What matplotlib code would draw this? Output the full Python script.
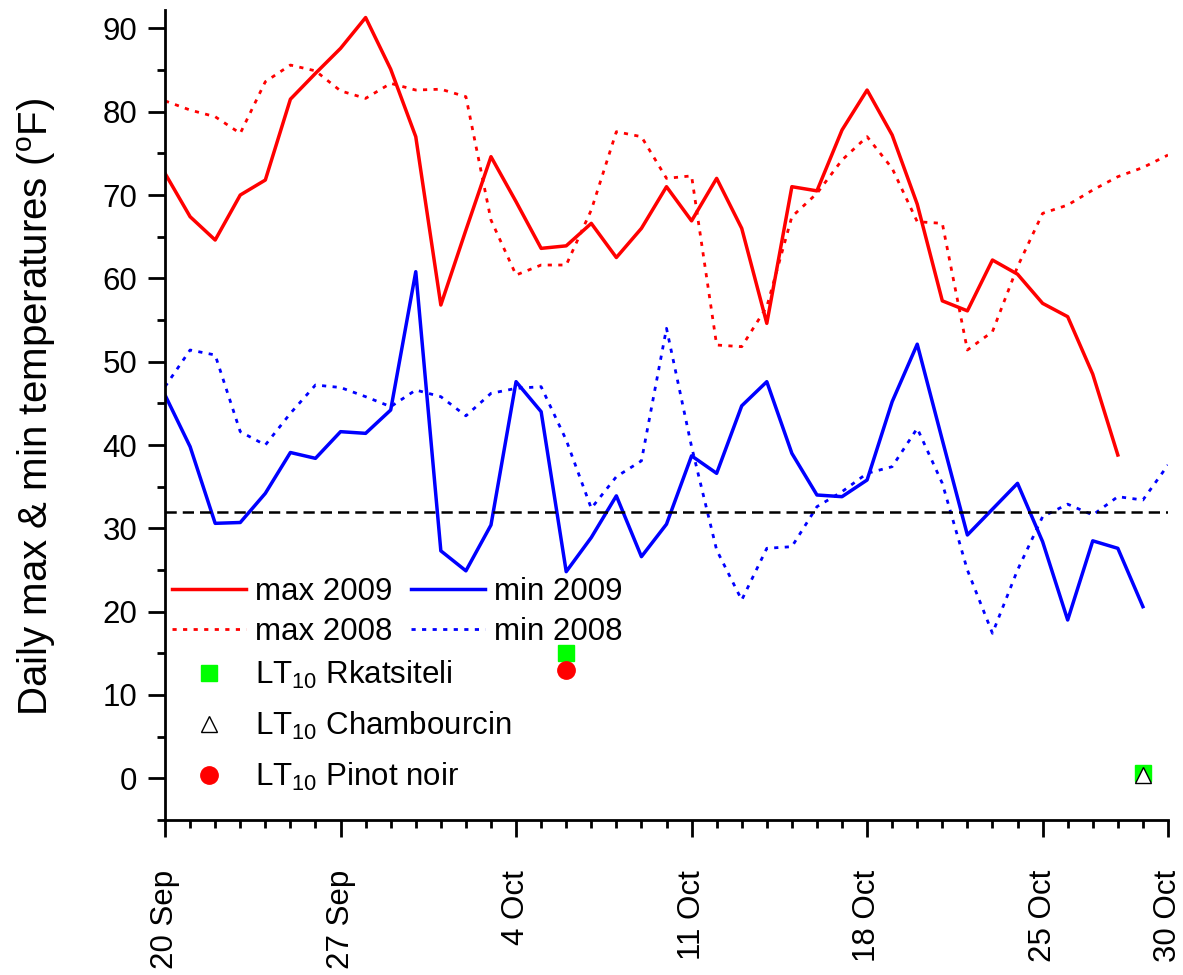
import matplotlib
matplotlib.use('Agg')
import matplotlib.pyplot as plt
import matplotlib.dates as mdates
from matplotlib.ticker import MultipleLocator, FixedLocator
import numpy as np
import pandas as pd

plt.rcParams['font.family'] = ['Liberation Sans', 'DejaVu Sans']
plt.rcParams['mathtext.fontset'] = 'custom'
plt.rcParams['mathtext.rm'] = 'Liberation Sans'
plt.rcParams['mathtext.it'] = 'Liberation Sans'

# daily temperatures, 20 Sep .. 30 Oct (deg F)
max_2009 = [72.6, 67.4, 64.6, 70.0, 71.8, 81.5, 84.6, 87.6, 91.3, 85.1,
            77.0, 56.8, 65.8, 74.6, 69.2, 63.6, 63.9, 66.6, 62.5, 66.0,
            71.0, 66.9, 72.0, 66.0, 54.6, 71.0, 70.5, 77.8, 82.6, 77.2,
            68.9, 57.3, 56.1, 62.2, 60.5, 57.0, 55.4, 48.5, 38.8]
max_2008 = [81.3, 80.2, 79.4, 77.4, 83.6, 85.6, 84.9, 82.5, 81.6, 83.4,
            82.6, 82.7, 81.8, 67.0, 60.4, 61.6, 61.6, 68.2, 77.6, 77.0,
            72.0, 72.3, 52.0, 51.8, 56.6, 67.4, 70.2, 74.2, 77.0, 73.2,
            66.8, 66.6, 51.4, 53.6, 61.4, 67.8, 68.8, 70.6, 72.2, 73.3, 74.8]
min_2009 = [46.0, 39.8, 30.6, 30.7, 34.2, 39.1, 38.4, 41.6, 41.4, 44.2,
            60.8, 27.3, 24.9, 30.4, 47.6, 44.0, 24.8, 28.9, 33.9, 26.6,
            30.5, 38.7, 36.6, 44.7, 47.6, 39.0, 34.0, 33.8, 35.8, 45.2,
            52.1, 40.6, 29.2, 32.3, 35.4, 28.4, 19.0, 28.5, 27.6, 20.6]
min_2008 = [47.0, 51.4, 50.8, 41.6, 40.0, 43.8, 47.2, 46.9, 45.8, 44.6,
            46.6, 45.8, 43.5, 46.2, 46.8, 47.0, 40.6, 32.4, 36.2, 38.1,
            54.0, 39.8, 27.4, 21.4, 27.6, 27.8, 32.6, 34.4, 36.6, 37.4,
            42.0, 35.4, 25.0, 17.4, 25.0, 31.4, 32.9, 31.6, 33.8, 33.4, 37.6]
freezing = 32

# LT10 cold hardiness measurements
lt10_dates = ['2009-10-06', '2009-10-29']
lt10_rkatsiteli = [15.0, 0.6]
lt10_chambourcin = [None, 0.4]
lt10_pinot = [13.0, None]

start = pd.Timestamp('2009-09-20')
end = pd.Timestamp('2009-10-30')
days_all = pd.date_range(start, end, freq='D')
tick_dates = ['2009-09-20', '2009-09-27', '2009-10-04', '2009-10-11',
              '2009-10-18', '2009-10-25', '2009-10-30']

fig = plt.figure(figsize=(11.83, 9.75), dpi=100)
ax = fig.add_axes([0.1395, 0.159, 0.8478, 0.8307])

dot = (0, (1.5, 2.3))
l1, = ax.plot(days_all[:len(max_2009)], max_2009, color='red', lw=2.5, label='max 2009')
l2, = ax.plot(days_all[:len(max_2008)], max_2008, color='red', lw=2.0, ls=dot, label='max 2008')
l3, = ax.plot(days_all[:len(min_2009)], min_2009, color='blue', lw=2.5, label='min 2009')
l4, = ax.plot(days_all[:len(min_2008)], min_2008, color='blue', lw=2.0, ls=dot, label='min 2008')
ax.plot([start, end], [freezing, freezing], color='black', lw=1.8, ls=(0, (4.5, 2.4)))

lt_x = pd.to_datetime(lt10_dates)
rk = np.array([np.nan if v is None else v for v in lt10_rkatsiteli])
ch = np.array([np.nan if v is None else v for v in lt10_chambourcin])
pn = np.array([np.nan if v is None else v for v in lt10_pinot])
m1, = ax.plot(lt_x, rk, ls='none', marker='s', ms=11, color='#00ff00', mec='#00ff00')
m2, = ax.plot(lt_x, ch, ls='none', marker='^', ms=11, mfc='white', mec='black', mew=1)
m3, = ax.plot(lt_x, pn, ls='none', marker='o', ms=12.5, color='red', mec='red')

ax.set_xlim(start, end)
ax.set_ylim(-5, 92.2)

ax.xaxis.set_major_locator(FixedLocator(mdates.date2num(pd.to_datetime(tick_dates))))
ax.xaxis.set_major_formatter(mdates.DateFormatter('%-d %b'))
ax.xaxis.set_minor_locator(mdates.DayLocator())
ax.yaxis.set_major_locator(MultipleLocator(10))
ax.yaxis.set_minor_locator(MultipleLocator(5))
ax.set_yticks(np.arange(0, 91, 10))

for s in ['top', 'right']:
    ax.spines[s].set_visible(False)
for s in ['left', 'bottom']:
    ax.spines[s].set_linewidth(2)

ax.tick_params(which='major', direction='out', length=12, width=2, labelsize=22.5, pad=8)
ax.tick_params(which='minor', direction='out', length=6, width=2)
ax.tick_params(axis='x', which='major', pad=24)
plt.setp(ax.get_xticklabels(), rotation=90)

ax.set_ylabel(r'Daily max & min temperatures ($^{\rm o}$F)', fontsize=29)
ax.yaxis.set_label_coords(-0.107, 0.51)

leg1 = ax.legend([l1, l2, l3, l4], ['max 2009', 'max 2008', 'min 2009', 'min 2008'],
                 ncol=2, frameon=False, fontsize=22.5, handlelength=2.37,
                 handletextpad=0.29, columnspacing=0.58, labelspacing=0.32,
                 borderpad=0, borderaxespad=0,
                 loc='upper left', bbox_to_anchor=(0.007, 0.3))
ax.add_artist(leg1)
ax.legend([m1, m2, m3],
          [r'LT$_{10}$ Rkatsiteli', r'LT$_{10}$ Chambourcin', r'LT$_{10}$ Pinot noir'],
          frameon=False, fontsize=22.5, handlelength=2.37, handletextpad=0.29,
          labelspacing=0.6, borderpad=0, borderaxespad=0,
          loc='upper left', bbox_to_anchor=(0.007, 0.199))

fig.savefig('out.png', dpi=100)
